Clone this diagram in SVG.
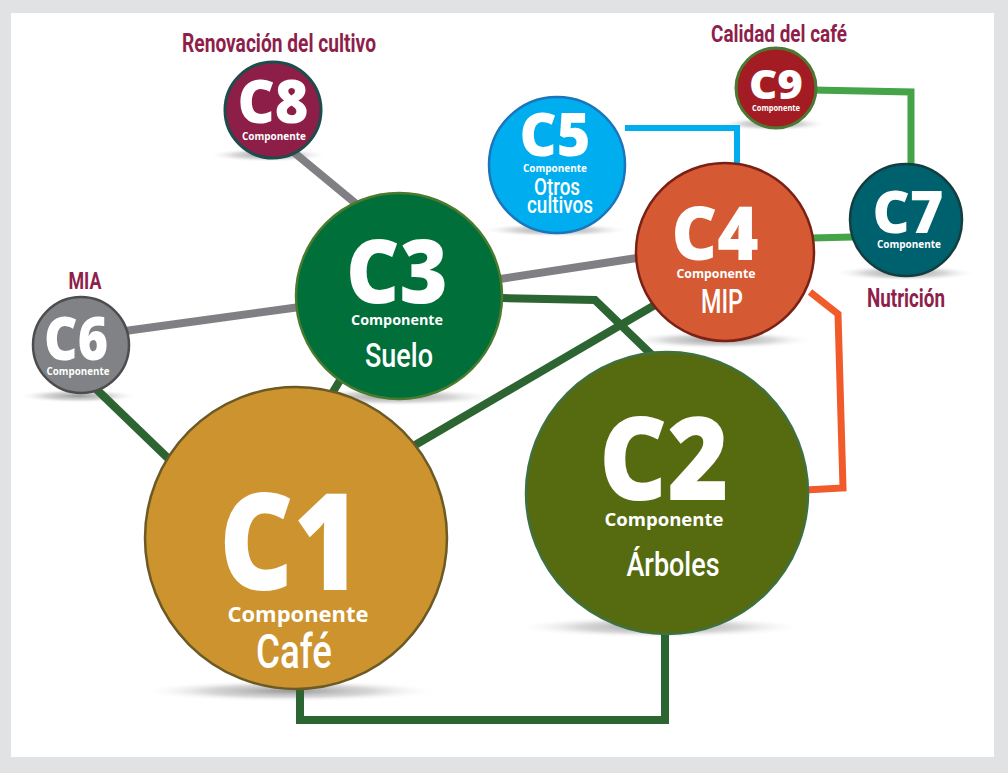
<svg xmlns="http://www.w3.org/2000/svg" width="1008" height="773" viewBox="0 0 1008 773">
<defs>
<radialGradient id="sh" cx="0.5" cy="0.5" r="0.5">
<stop offset="0" stop-color="#8d8d8f" stop-opacity="0.9"/>
<stop offset="0.55" stop-color="#bdbdbf" stop-opacity="0.6"/>
<stop offset="1" stop-color="#ffffff" stop-opacity="0"/>
</radialGradient>
</defs>
<style>
.big{font-family:"Open Sans","Liberation Sans",sans-serif;font-weight:800;fill:#fff;text-anchor:middle}
.cmp{font-family:"Open Sans","Liberation Sans",sans-serif;font-weight:700;fill:#fff;text-anchor:middle}
.sub{font-family:Roboto,"Liberation Sans",sans-serif;font-weight:500;fill:#fff;text-anchor:middle}
.lbl{font-family:Roboto,"Liberation Sans",sans-serif;font-weight:700;fill:#8e1f4b;text-anchor:middle}
.shadow{fill:url(#sh)}
.c{fill:none;stroke-linejoin:miter}
</style>
<rect x="0" y="0" width="1008" height="773" fill="#e1e2e4"/>
<rect x="11" y="13" width="983" height="744" fill="#ffffff"/>

<g id="shadows">
<ellipse class="shadow" cx="290" cy="691" rx="150" ry="11"/>
<ellipse class="shadow" cx="660" cy="627" rx="145" ry="11"/>
<ellipse class="shadow" cx="395" cy="397" rx="105" ry="9"/>
<ellipse class="shadow" cx="720" cy="340" rx="95" ry="9"/>
<ellipse class="shadow" cx="555" cy="230" rx="75" ry="7"/>
<ellipse class="shadow" cx="905" cy="273" rx="72" ry="8"/>
<ellipse class="shadow" cx="268" cy="155" rx="60" ry="7"/>
<ellipse class="shadow" cx="773" cy="124" rx="55" ry="7"/>
<ellipse class="shadow" cx="78" cy="396" rx="60" ry="7"/>
</g>

<g id="connectors">
<line class="c" x1="285" y1="145" x2="360" y2="207" stroke="#808084" stroke-width="8"/>
<line class="c" x1="125" y1="331" x2="300" y2="307" stroke="#808084" stroke-width="8"/>
<line class="c" x1="500" y1="279" x2="637" y2="258" stroke="#808084" stroke-width="8"/>
<line class="c" x1="92" y1="385" x2="175" y2="465" stroke="#2d6532" stroke-width="8"/>
<line class="c" x1="345" y1="372" x2="325" y2="405" stroke="#2d6532" stroke-width="8"/>
<line class="c" x1="410" y1="448" x2="660" y2="302" stroke="#2d6532" stroke-width="8"/>
<polyline class="c" points="502,298 595,300 655,358" stroke="#2d6532" stroke-width="8"/>
<polyline class="c" points="300,688 300,720 665,720 665,625" stroke="#2d6532" stroke-width="8"/>
<polyline class="c" points="810,292 838,314 843,488 805,490" stroke="#f15a2b" stroke-width="7"/>
<polyline class="c" points="625,128 737,128 737,168" stroke="#00aeef" stroke-width="6"/>
<polyline class="c" points="812,90 911,92 911,168" stroke="#45a447" stroke-width="7"/>
<line class="c" x1="812" y1="238" x2="853" y2="237" stroke="#45a447" stroke-width="7"/>
</g>

<g id="C1">
<circle cx="296" cy="538" r="151" fill="#cc932e" stroke="#6b5a25" stroke-width="2.5"/>
<text class="big" x="290" y="590" font-size="134" textLength="142" lengthAdjust="spacingAndGlyphs">C1</text>
<text class="cmp" x="298" y="622" font-size="21" textLength="141" lengthAdjust="spacingAndGlyphs">Componente</text>
<text class="sub" x="294" y="668" font-size="48" textLength="76" lengthAdjust="spacingAndGlyphs">Café</text>
</g>

<g id="C2">
<circle cx="667" cy="493" r="141" fill="#566b10" stroke="#3f7040" stroke-width="2.5"/>
<text class="big" x="664" y="500" font-size="116" textLength="130" lengthAdjust="spacingAndGlyphs">C2</text>
<text class="cmp" x="664" y="526" font-size="18" textLength="119" lengthAdjust="spacingAndGlyphs">Componente</text>
<text class="sub" x="673" y="576" font-size="34" textLength="93" lengthAdjust="spacingAndGlyphs">Árboles</text>
</g>

<g id="C3">
<circle cx="399" cy="296" r="103" fill="#006f3a" stroke="#4a7a2e" stroke-width="2.5"/>
<text class="big" x="397" y="303" font-size="88" textLength="102" lengthAdjust="spacingAndGlyphs">C3</text>
<text class="cmp" x="397" y="325" font-size="15" textLength="92" lengthAdjust="spacingAndGlyphs">Componente</text>
<text class="sub" x="399" y="367" font-size="33" textLength="68" lengthAdjust="spacingAndGlyphs">Suelo</text>
</g>

<g id="C4">
<circle cx="725" cy="252" r="89" fill="#d55a33" stroke="#7a2015" stroke-width="2.5"/>
<text class="big" x="715" y="260" font-size="74" textLength="87" lengthAdjust="spacingAndGlyphs">C4</text>
<text class="cmp" x="716" y="278" font-size="13" textLength="79" lengthAdjust="spacingAndGlyphs">Componente</text>
<text class="sub" x="722" y="313" font-size="33" textLength="42" lengthAdjust="spacingAndGlyphs">MIP</text>
</g>

<g id="C5">
<circle cx="557" cy="165" r="68" fill="#00aeef" stroke="#1b75bb" stroke-width="2.5"/>
<text class="big" x="555" y="156" font-size="60" textLength="71" lengthAdjust="spacingAndGlyphs">C5</text>
<text class="cmp" x="555" y="172" font-size="11" textLength="64" lengthAdjust="spacingAndGlyphs">Componente</text>
<text class="sub" x="557" y="195" font-size="24" textLength="46" lengthAdjust="spacingAndGlyphs">Otros</text>
<text class="sub" x="560" y="213" font-size="24" textLength="66" lengthAdjust="spacingAndGlyphs">cultivos</text>
</g>

<g id="C6">
<circle cx="81" cy="345" r="48" fill="#818285" stroke="#4d4d4f" stroke-width="2.5"/>
<text class="big" x="76" y="360" font-size="60" textLength="64" lengthAdjust="spacingAndGlyphs">C6</text>
<text class="cmp" x="78" y="375" font-size="11" textLength="63" lengthAdjust="spacingAndGlyphs">Componente</text>
</g>
<text class="lbl" x="85" y="289" font-size="23" textLength="33" lengthAdjust="spacingAndGlyphs">MIA</text>

<g id="C7">
<circle cx="906" cy="220" r="56" fill="#00616e" stroke="#133d3f" stroke-width="2.5"/>
<text class="big" x="908" y="233" font-size="58" textLength="71" lengthAdjust="spacingAndGlyphs">C7</text>
<text class="cmp" x="909" y="248" font-size="11" textLength="64" lengthAdjust="spacingAndGlyphs">Componente</text>
</g>
<text class="lbl" x="906" y="307" font-size="25" textLength="78" lengthAdjust="spacingAndGlyphs">Nutrición</text>

<g id="C8">
<circle cx="273" cy="110" r="48" fill="#8c1e47" stroke="#1b4d4c" stroke-width="3"/>
<text class="big" x="273" y="123" font-size="60" textLength="71" lengthAdjust="spacingAndGlyphs">C8</text>
<text class="cmp" x="274" y="140" font-size="11" textLength="64" lengthAdjust="spacingAndGlyphs">Componente</text>
</g>
<text class="lbl" x="279" y="52" font-size="25" textLength="194" lengthAdjust="spacingAndGlyphs">Renovación del cultivo</text>

<g id="C9">
<circle cx="776" cy="88" r="40" fill="#a41c23" stroke="#4a7a32" stroke-width="3"/>
<text class="big" x="776" y="99" font-size="41" textLength="54" lengthAdjust="spacingAndGlyphs">C9</text>
<text class="cmp" x="776" y="111" font-size="8" textLength="48" lengthAdjust="spacingAndGlyphs">Componente</text>
</g>
<text class="lbl" x="779" y="42" font-size="24" textLength="136" lengthAdjust="spacingAndGlyphs">Calidad del café</text>
</svg>
